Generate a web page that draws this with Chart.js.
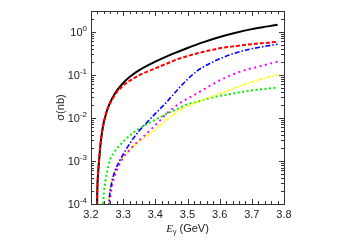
<!DOCTYPE html>
<html>
<head>
<meta charset="utf-8">
<script src="https://cdn.jsdelivr.net/npm/chart.js@4.4.0/dist/chart.umd.min.js"></script>
<style>
  html, body { margin: 0; padding: 0; background: #fff; }
  #wrap { width: 349px; height: 245px; }
</style>
</head>
<body>
<div id="wrap"><canvas id="c" width="349" height="245"></canvas></div>
<script>
// ---- data ----
const xTickLabels = [3.2, 3.3, 3.4, 3.5, 3.6, 3.7, 3.8];
const yTickExponents = [0, -1, -2, -3, -4];

const energyBlack = [3.2183, 3.2195, 3.222, 3.225, 3.23, 3.235, 3.24, 3.245, 3.25, 3.26, 3.27, 3.28, 3.30, 3.32, 3.35, 3.40, 3.45, 3.50, 3.55, 3.60, 3.65, 3.70, 3.75, 3.78];
const sigmaBlack  = [5e-5, 2e-4, 5e-4, 1.0e-3, 2.6e-3, 5e-3, 8e-3, 1.1e-2, 1.5e-2, 2.3e-2, 3.2e-2, 4.2e-2, 6.4e-2, 8.8e-2, 0.127, 0.20, 0.295, 0.415, 0.57, 0.75, 0.94, 1.14, 1.32, 1.44];

const energyRed = [3.2183, 3.2195, 3.222, 3.225, 3.23, 3.235, 3.24, 3.245, 3.25, 3.26, 3.27, 3.28, 3.30, 3.32, 3.35, 3.40, 3.45, 3.477, 3.50, 3.55, 3.60, 3.65, 3.70, 3.75, 3.78];
const sigmaRed  = [5e-5, 2e-4, 5e-4, 1.0e-3, 2.6e-3, 5e-3, 8e-3, 1.1e-2, 1.5e-2, 2.2e-2, 3.0e-2, 3.9e-2, 5.6e-2, 7.2e-2, 0.097, 0.14, 0.20, 0.24, 0.27, 0.34, 0.41, 0.46, 0.51, 0.55, 0.58];

const energyBlue = [3.2545, 3.258, 3.265, 3.275, 3.289, 3.31, 3.33, 3.35, 3.37, 3.40, 3.43, 3.45, 3.477, 3.50, 3.53, 3.58, 3.63, 3.68, 3.73, 3.78];
const sigmaBlue  = [8e-5, 1.6e-4, 3.3e-4, 6e-4, 1.0e-3, 1.9e-3, 3.2e-3, 5.0e-3, 7.3e-3, 1.25e-2, 2.1e-2, 3.1e-2, 5.2e-2, 7.8e-2, 0.122, 0.20, 0.285, 0.37, 0.44, 0.51];

const energyMagenta = [3.2575, 3.261, 3.268, 3.28, 3.294, 3.32, 3.35, 3.38, 3.41, 3.44, 3.477, 3.53, 3.58, 3.63, 3.68, 3.73, 3.78];
const sigmaMagenta  = [8e-5, 1.6e-4, 3.2e-4, 6e-4, 1.0e-3, 1.8e-3, 3.0e-3, 4.8e-3, 8.0e-3, 1.35e-2, 2.2e-2, 3.7e-2, 6.1e-2, 9.4e-2, 0.128, 0.16, 0.20];

const energyYellow = [3.2525, 3.256, 3.263, 3.273, 3.285, 3.30, 3.33, 3.36, 3.40, 3.44, 3.477, 3.53, 3.58, 3.63, 3.68, 3.73, 3.78];
const sigmaYellow  = [8e-5, 1.6e-4, 3.2e-4, 5.5e-4, 8.5e-4, 1.2e-3, 2.1e-3, 3.2e-3, 5.3e-3, 9.5e-3, 1.5e-2, 2.3e-2, 3.2e-2, 4.4e-2, 6.0e-2, 7.9e-2, 0.10];

const energyGreen = [3.2365, 3.24, 3.245, 3.25, 3.258, 3.27, 3.28, 3.30, 3.33, 3.36, 3.40, 3.45, 3.477, 3.50, 3.53, 3.58, 3.63, 3.68, 3.73, 3.78];
const sigmaGreen  = [8e-5, 1.8e-4, 3.5e-4, 5.5e-4, 1.0e-3, 1.5e-3, 1.9e-3, 2.8e-3, 4.4e-3, 6.2e-3, 9.0e-3, 1.4e-2, 1.7e-2, 2.05e-2, 2.35e-2, 3.0e-2, 3.5e-2, 4.1e-2, 4.6e-2, 5.0e-2];

function pts(xs, ys) { return xs.map((x, i) => ({ x: x, y: ys[i] })); }

const frame = {
  id: 'frame',
  afterDraw(chart) {
    const ctx = chart.ctx, a = chart.chartArea;
    const xs = chart.scales.x, ys = chart.scales.y;
    ctx.save();
    ctx.strokeStyle = '#333';
    ctx.lineWidth = 1;
    ctx.strokeRect(Math.round(a.left) + 0.5, Math.round(a.top) + 0.5, Math.round(a.right - a.left), Math.round(a.bottom - a.top));
    ctx.beginPath();
    for (let k = 0; k <= 30; k++) {
      const v = 3.2 + k * 0.02;
      const px = Math.round(xs.getPixelForValue(v)) + 0.5;
      const len = (k % 5 === 0) ? 5 : 3;
      ctx.moveTo(px, a.bottom); ctx.lineTo(px, a.bottom - len);
      ctx.moveTo(px, a.top); ctx.lineTo(px, a.top + len);
    }
    for (let e = -4; e <= 0; e++) {
      for (let m = 1; m <= 9; m++) {
        const v = m * Math.pow(10, e);
        if (v > ys.max) continue;
        const py = Math.round(ys.getPixelForValue(v)) + 0.5;
        const len = (m === 1) ? 5 : 3;
        ctx.moveTo(a.left, py); ctx.lineTo(a.left + len, py);
        ctx.moveTo(a.right, py); ctx.lineTo(a.right - len, py);
      }
    }
    ctx.stroke();

    ctx.fillStyle = '#222';
    ctx.font = '11px "Liberation Sans", Arial, sans-serif';
    ctx.textAlign = 'center';
    ctx.textBaseline = 'alphabetic';
    xTickLabels.forEach(v => {
      ctx.fillText(v.toFixed(1), xs.getPixelForValue(v), a.bottom + 14);
    });
    yTickExponents.forEach(n => {
      const py = ys.getPixelForValue(Math.pow(10, n));
      const exp = String(n);
      ctx.font = '8px "Liberation Sans", Arial, sans-serif';
      const ew = ctx.measureText(exp).width;
      const right = a.left - 4;
      ctx.textAlign = 'left';
      ctx.fillText(exp, right - ew, py - 1);
      ctx.font = '11px "Liberation Sans", Arial, sans-serif';
      ctx.textAlign = 'right';
      ctx.fillText('10', right - ew, py + 4);
    });
    ctx.save();
    ctx.translate(a.left - 27, (a.top + a.bottom) / 2);
    ctx.rotate(-Math.PI / 2);
    ctx.textAlign = 'center';
    ctx.font = '11px "Liberation Sans", Arial, sans-serif';
    ctx.fillText('σ(nb)', 0, 0);
    ctx.restore();
    const cx = (a.left + a.right) / 2;
    const by = a.bottom + 28;
    ctx.textAlign = 'left';
    ctx.font = 'italic 11px "Liberation Serif", "Times New Roman", serif';
    const wE = ctx.measureText('E').width;
    ctx.font = '7px "Liberation Sans", Arial, sans-serif';
    const wG = ctx.measureText('γ').width;
    ctx.font = '11px "Liberation Sans", Arial, sans-serif';
    const wR = ctx.measureText(' (GeV)').width;
    let x0 = cx - (wE + wG + wR) / 2;
    ctx.font = 'italic 11px "Liberation Serif", "Times New Roman", serif';
    ctx.fillText('E', x0, by);
    ctx.font = '7px "Liberation Sans", Arial, sans-serif';
    ctx.fillText('γ', x0 + wE, by + 2);
    ctx.font = '11px "Liberation Sans", Arial, sans-serif';
    ctx.fillText(' (GeV)', x0 + wE + wG, by);
    ctx.restore();
  }
};

const common = { pointRadius: 0, fill: false, cubicInterpolationMode: 'monotone' };

new Chart(document.getElementById('c'), {
  type: 'line',
  data: {
    datasets: [
      Object.assign({ label: 'red', data: pts(energyRed, sigmaRed), borderColor: '#ff0000', borderWidth: 2, borderDash: [4, 2] }, common),
      Object.assign({ label: 'black', data: pts(energyBlack, sigmaBlack), borderColor: '#000000', borderWidth: 2 }, common),
      Object.assign({ label: 'blue', data: pts(energyBlue, sigmaBlue), borderColor: '#0000ff', borderWidth: 1.6, borderDash: [5, 2, 1.5, 2] }, common),
      Object.assign({ label: 'magenta', data: pts(energyMagenta, sigmaMagenta), borderColor: '#ff00ff', borderWidth: 2, borderDash: [2, 3.5] }, common),
      Object.assign({ label: 'yellow', data: pts(energyYellow, sigmaYellow), borderColor: '#ffff00', borderWidth: 1.6, borderDash: [4, 1.5, 1.5, 1.5] }, common),
      Object.assign({ label: 'green', data: pts(energyGreen, sigmaGreen), borderColor: '#00ee00', borderWidth: 2, borderDash: [2, 2.5] }, common)
    ]
  },
  options: {
    responsive: false,
    animation: false,
    events: [],
    layout: { padding: { left: 91, right: 65, top: 11, bottom: 41 } },
    plugins: { legend: { display: false }, tooltip: { enabled: false } },
    scales: {
      x: { type: 'linear', min: 3.2, max: 3.8, display: false },
      y: { type: 'logarithmic', min: 1e-4, max: 3, display: false }
    }
  },
  plugins: [frame]
});
</script>
</body>
</html>
